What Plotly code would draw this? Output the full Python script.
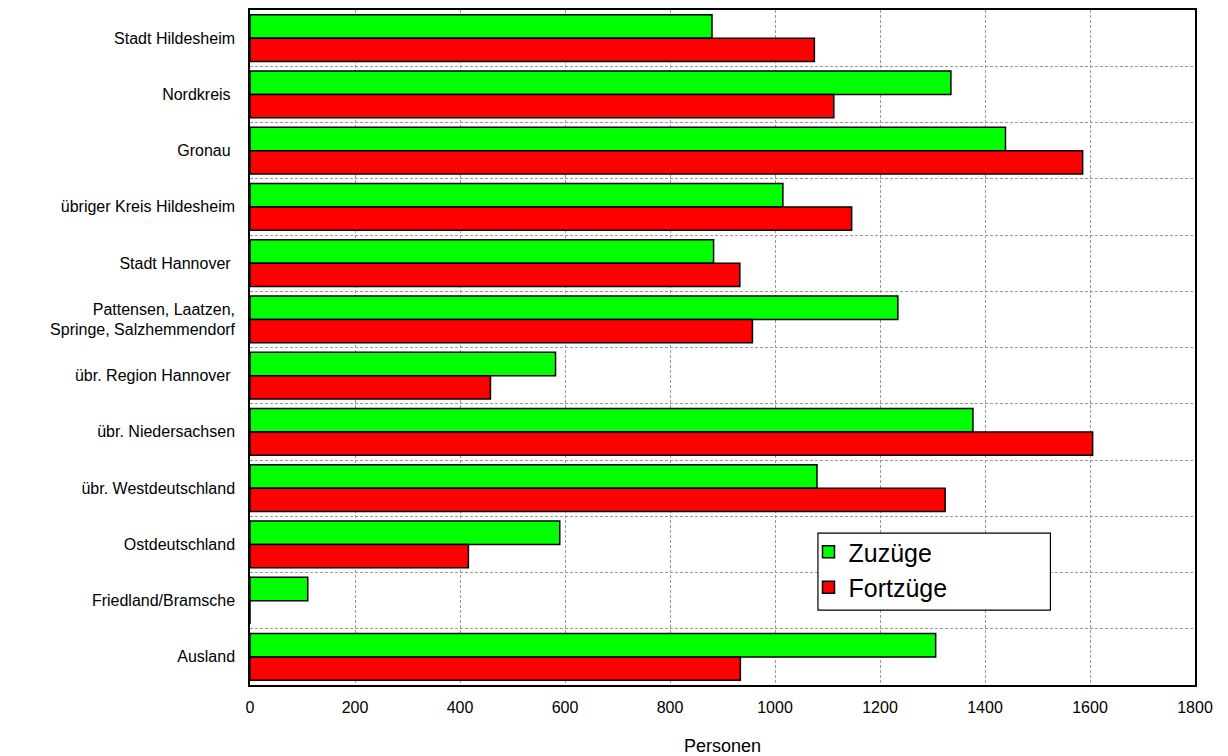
import plotly.graph_objects as go

categories = [
    "Stadt Hildesheim",
    "Nordkreis ",
    "Gronau ",
    "übriger Kreis Hildesheim",
    "Stadt Hannover ",
    "Pattensen, Laatzen,<br>Springe, Salzhemmendorf",
    "übr. Region Hannover ",
    "übr. Niedersachsen",
    "übr. Westdeutschland",
    "Ostdeutschland",
    "Friedland/Bramsche",
    "Ausland",
]
zuzuege = [880, 1335, 1439, 1015, 883, 1234, 582, 1377, 1080, 590, 110, 1306]
fortzuege = [1075, 1112, 1586, 1146, 933, 957, 458, 1605, 1324, 416, 0, 934]

FONT = "Liberation Sans, Arial, sans-serif"

fig = go.Figure()
fig.add_trace(go.Bar(
    y=categories, x=zuzuege, orientation="h", name="Zuzüge",
    marker=dict(color="#00ff00", line=dict(color="black", width=1.5)),
))
fig.add_trace(go.Bar(
    y=categories, x=fortzuege, orientation="h", name="Fortzüge",
    marker=dict(color="#ff0000", line=dict(color="black", width=1.5)),
))

# legend frame
fig.add_shape(
    type="rect", xref="paper", yref="paper",
    x0=0.601, x1=0.847, y0=0.111, y1=0.225,
    line=dict(color="black", width=1.2), fillcolor="white", layer="above",
)

fig.update_layout(
    width=1228, height=756,
    margin=dict(l=250, r=33, t=10, b=71, autoexpand=False),
    paper_bgcolor="white", plot_bgcolor="white",
    barmode="group", bargap=0.165, bargroupgap=0,
    font=dict(family=FONT, color="black", size=16),
    showlegend=True,
    legend=dict(
        x=0.591, y=0.231, xanchor="left", yanchor="top",
        borderwidth=0, bgcolor="rgba(0,0,0,0)",
        font=dict(size=25, family=FONT), traceorder="normal",
        itemwidth=30, tracegroupgap=0,
    ),
)
fig.update_xaxes(
    range=[0, 1800], dtick=200, tick0=0, automargin=False,
    showgrid=True, gridcolor="#999999", griddash="3px,2px", gridwidth=1,
    showline=True, linecolor="black", linewidth=1.5, mirror=True,
    zeroline=False, ticks="", ticklabelstandoff=7,
    tickfont=dict(size=16, family=FONT),
    title=dict(text="Personen", font=dict(size=18, family=FONT), standoff=24),
)
fig.update_yaxes(
    autorange="reversed", type="category", tickson="boundaries", automargin=False,
    showgrid=True, gridcolor="#999999", griddash="3px,2px", gridwidth=1,
    showline=True, linecolor="black", linewidth=1.5, mirror=True,
    ticks="", ticklabelstandoff=10,
    tickfont=dict(size=16, family=FONT),
)

fig.write_html("out.html")
